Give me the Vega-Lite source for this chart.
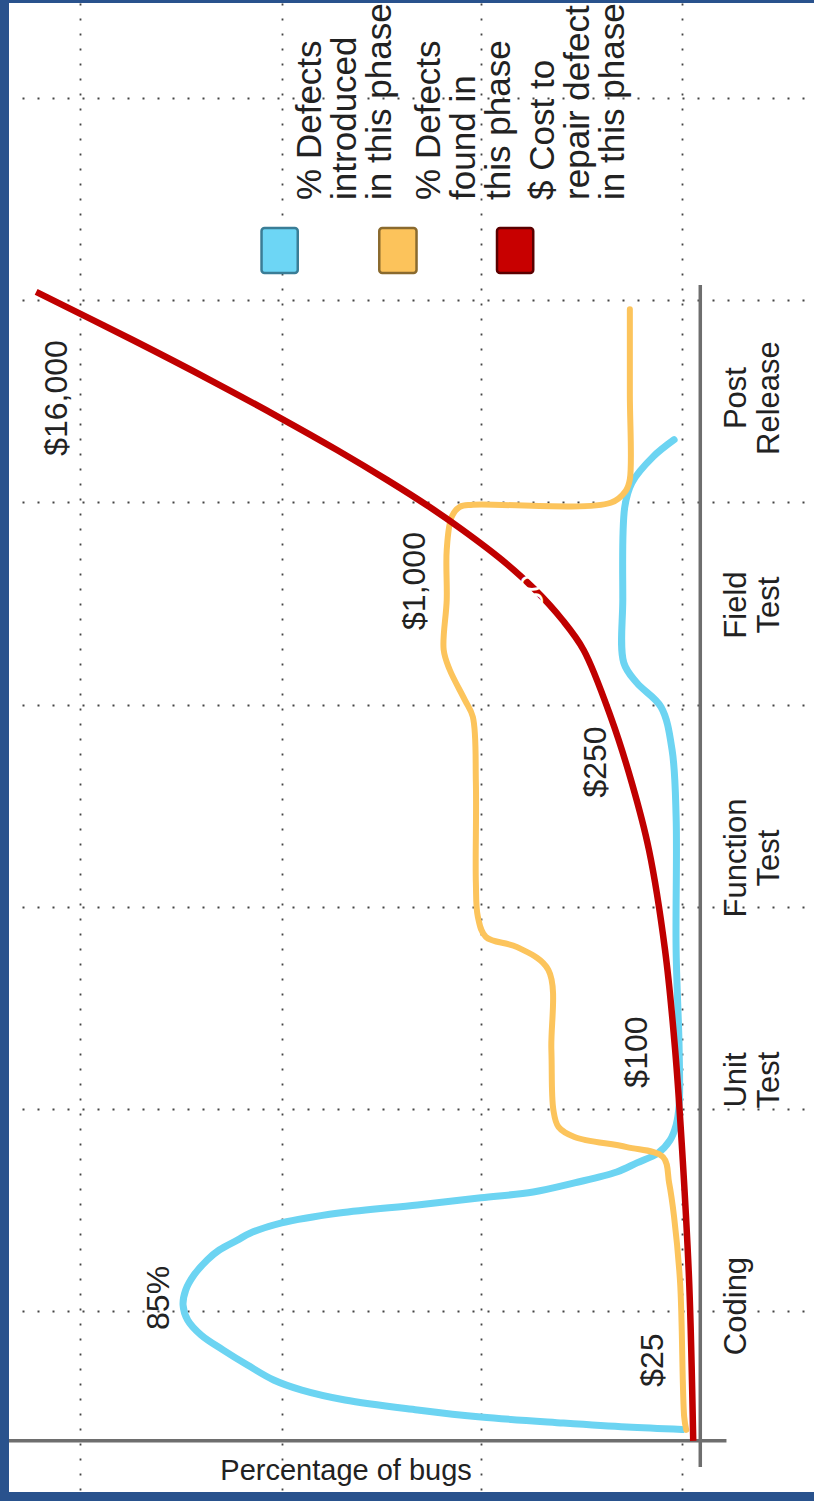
{
  "$schema": "https://vega.github.io/schema/vega-lite/v6.json",
  "width": 810,
  "height": 1489,
  "autosize": {"type": "none"},
  "padding": {"left": 9, "top": 3, "right": 0, "bottom": 9},
  "background": "#29528d",
  "config": {"view": {"fill": "#ffffff", "stroke": null}, "font": "Liberation Sans"},
  "datasets": {
    "curves": [
      {"series": "introduced", "i": 1, "p": 2.98, "u": 0.414},
      {"series": "introduced", "i": 2, "p": 12.07, "u": 0.426},
      {"series": "introduced", "i": 3, "p": 22.48, "u": 0.446},
      {"series": "introduced", "i": 4, "p": 36.03, "u": 0.476},
      {"series": "introduced", "i": 5, "p": 46.45, "u": 0.511},
      {"series": "introduced", "i": 6, "p": 58.35, "u": 0.56},
      {"series": "introduced", "i": 7, "p": 65.45, "u": 0.609},
      {"series": "introduced", "i": 8, "p": 70.08, "u": 0.659},
      {"series": "introduced", "i": 9, "p": 74.38, "u": 0.733},
      {"series": "introduced", "i": 10, "p": 78.35, "u": 0.807},
      {"series": "introduced", "i": 11, "p": 81.98, "u": 0.881},
      {"series": "introduced", "i": 12, "p": 84.21, "u": 0.956},
      {"series": "introduced", "i": 13, "p": 84.96, "u": 1.03},
      {"series": "introduced", "i": 14, "p": 84.52, "u": 1.104},
      {"series": "introduced", "i": 15, "p": 83.17, "u": 1.178},
      {"series": "introduced", "i": 16, "p": 80.99, "u": 1.253},
      {"series": "introduced", "i": 17, "p": 79.01, "u": 1.302},
      {"series": "introduced", "i": 18, "p": 76.03, "u": 1.351},
      {"series": "introduced", "i": 19, "p": 73.88, "u": 1.386},
      {"series": "introduced", "i": 20, "p": 68.76, "u": 1.436},
      {"series": "introduced", "i": 21, "p": 59.34, "u": 1.485},
      {"series": "introduced", "i": 22, "p": 46.45, "u": 1.525},
      {"series": "introduced", "i": 23, "p": 36.03, "u": 1.56},
      {"series": "introduced", "i": 24, "p": 27.44, "u": 1.589},
      {"series": "introduced", "i": 25, "p": 20.66, "u": 1.634},
      {"series": "introduced", "i": 26, "p": 13.72, "u": 1.688},
      {"series": "introduced", "i": 27, "p": 10.41, "u": 1.733},
      {"series": "introduced", "i": 28, "p": 6.94, "u": 1.782},
      {"series": "introduced", "i": 29, "p": 4.96, "u": 1.846},
      {"series": "introduced", "i": 30, "p": 3.97, "u": 1.92},
      {"series": "introduced", "i": 31, "p": 3.47, "u": 2.019},
      {"series": "introduced", "i": 32, "p": 3.47, "u": 2.292},
      {"series": "introduced", "i": 33, "p": 3.97, "u": 2.786},
      {"series": "introduced", "i": 34, "p": 3.97, "u": 3.444},
      {"series": "introduced", "i": 35, "p": 4.63, "u": 3.775},
      {"series": "introduced", "i": 36, "p": 6.45, "u": 3.988},
      {"series": "introduced", "i": 37, "p": 10.41, "u": 4.107},
      {"series": "introduced", "i": 38, "p": 12.56, "u": 4.206},
      {"series": "introduced", "i": 39, "p": 12.73, "u": 4.518},
      {"series": "introduced", "i": 40, "p": 12.4, "u": 4.978},
      {"series": "introduced", "i": 41, "p": 11.24, "u": 5.097},
      {"series": "introduced", "i": 42, "p": 7.77, "u": 5.225},
      {"series": "introduced", "i": 43, "p": 4.3, "u": 5.31},
      {"series": "found", "i": 1, "p": 2.31, "u": 0.412},
      {"series": "found", "i": 2, "p": 2.64, "u": 0.476},
      {"series": "found", "i": 3, "p": 3.31, "u": 1.138},
      {"series": "found", "i": 4, "p": 4.3, "u": 1.465},
      {"series": "found", "i": 5, "p": 5.12, "u": 1.634},
      {"series": "found", "i": 6, "p": 6.12, "u": 1.762},
      {"series": "found", "i": 7, "p": 12.07, "u": 1.811},
      {"series": "found", "i": 8, "p": 20.66, "u": 1.861},
      {"series": "found", "i": 9, "p": 23.3, "u": 1.911},
      {"series": "found", "i": 10, "p": 24.13, "u": 1.995},
      {"series": "found", "i": 11, "p": 24.46, "u": 2.292},
      {"series": "found", "i": 12, "p": 24.96, "u": 2.688},
      {"series": "found", "i": 13, "p": 30.08, "u": 2.8},
      {"series": "found", "i": 14, "p": 35.21, "u": 2.85},
      {"series": "found", "i": 15, "p": 36.53, "u": 2.949},
      {"series": "found", "i": 16, "p": 36.86, "u": 3.117},
      {"series": "found", "i": 17, "p": 36.86, "u": 3.612},
      {"series": "found", "i": 18, "p": 37.36, "u": 3.939},
      {"series": "found", "i": 19, "p": 38.68, "u": 4.023},
      {"series": "found", "i": 20, "p": 41.16, "u": 4.172},
      {"series": "found", "i": 21, "p": 42.15, "u": 4.271},
      {"series": "found", "i": 22, "p": 41.65, "u": 4.518},
      {"series": "found", "i": 23, "p": 41.65, "u": 4.765},
      {"series": "found", "i": 24, "p": 40.83, "u": 4.929},
      {"series": "found", "i": 25, "p": 39.5, "u": 4.978},
      {"series": "found", "i": 26, "p": 37.36, "u": 4.988},
      {"series": "found", "i": 27, "p": 14.71, "u": 4.998},
      {"series": "found", "i": 28, "p": 12.23, "u": 5.058},
      {"series": "found", "i": 29, "p": 11.57, "u": 5.114},
      {"series": "found", "i": 30, "p": 11.57, "u": 5.535},
      {"series": "found", "i": 31, "p": 11.57, "u": 5.955},
      {"series": "cost", "i": 1, "p": 1.16, "u": 0.358},
      {"series": "cost", "i": 2, "p": 1.82, "u": 1.138},
      {"series": "cost", "i": 3, "p": 2.98, "u": 1.796},
      {"series": "cost", "i": 4, "p": 4.13, "u": 2.292},
      {"series": "cost", "i": 5, "p": 5.79, "u": 2.786},
      {"series": "cost", "i": 6, "p": 8.43, "u": 3.281},
      {"series": "cost", "i": 7, "p": 11.24, "u": 3.612},
      {"series": "cost", "i": 8, "p": 14.71, "u": 3.939},
      {"series": "cost", "i": 9, "p": 19.17, "u": 4.27},
      {"series": "cost", "i": 10, "p": 22.64, "u": 4.418},
      {"series": "cost", "i": 11, "p": 27.11, "u": 4.567},
      {"series": "cost", "i": 12, "p": 32.56, "u": 4.715},
      {"series": "cost", "i": 13, "p": 39.01, "u": 4.863},
      {"series": "cost", "i": 14, "p": 44.46, "u": 4.977},
      {"series": "cost", "i": 15, "p": 51.4, "u": 5.11},
      {"series": "cost", "i": 16, "p": 59.67, "u": 5.259},
      {"series": "cost", "i": 17, "p": 69.26, "u": 5.422},
      {"series": "cost", "i": 18, "p": 80.5, "u": 5.605},
      {"series": "cost", "i": 19, "p": 93.22, "u": 5.803},
      {"series": "cost", "i": 20, "p": 109.09, "u": 6.041}
    ],
    "swatches": [
      {"series": "introduced", "p": 72.07, "p2": 66.12, "u": 6.357, "u2": 6.135},
      {"series": "found", "p": 52.73, "p2": 46.61, "u": 6.357, "u2": 6.135},
      {"series": "cost", "p": 33.39, "p2": 27.44, "u": 6.357, "u2": 6.135}
    ],
    "axislines": [
      {"p": 0, "p2": 0, "u": 0.229, "u2": 6.075},
      {"p": 113.55, "p2": -4.3, "u": 0.358, "u2": 0.358}
    ],
    "labels": [
      {"kind": "legend", "text": "% Defects\nintroduced\nin this phase", "p": 64.13, "u": 6.496},
      {"kind": "legend", "text": "% Defects\nfound in\nthis phase", "p": 44.63, "u": 6.496},
      {"kind": "legend", "text": "$ Cost to\nrepair defect\nin this phase", "p": 25.79, "u": 6.496},
      {"kind": "phase", "text": "Coding", "p": -3.6, "u": 1.025},
      {"kind": "phase", "text": "Unit\nTest", "p": -3.6, "u": 2.143},
      {"kind": "phase", "text": "Function\nTest", "p": -3.6, "u": 3.241},
      {"kind": "phase", "text": "Field\nTest", "p": -3.6, "u": 4.492},
      {"kind": "phase", "text": "Post\nRelease", "p": -3.6, "u": 5.516},
      {"kind": "value", "text": "$25", "p": 7.77, "u": 0.757},
      {"kind": "value", "text": "$100", "p": 10.41, "u": 2.281},
      {"kind": "value", "text": "$250", "p": 17.19, "u": 3.716},
      {"kind": "value", "text": "$1,000", "p": 46.94, "u": 4.611},
      {"kind": "value", "text": "$16,000", "p": 105.62, "u": 5.516},
      {"kind": "value", "text": "85%", "p": 88.93, "u": 1.065},
      {"kind": "title", "text": "Percentage of bugs", "p": 58.18, "u": 0.209},
      {"kind": "hidden", "text": "$500", "p": 27.44, "u": 4.557}
    ]
  },
  "encoding": {
    "x": {
      "field": "p", "type": "quantitative",
      "scale": {"domain": [-19.5, 113.55], "reverse": true, "nice": false, "zero": false},
      "axis": {"values": [2.98, 36.03, 68.76, 101.82], "grid": true, "labels": false, "ticks": false, "domain": false, "title": null, "gridColor": "#444444", "gridDash": [2, 13], "gridWidth": 1.8, "minExtent": 0, "maxExtent": 0}
    },
    "y": {
      "field": "u", "type": "quantitative",
      "scale": {"domain": [0.105, 7.47], "nice": false, "zero": false},
      "axis": {"values": [1, 2, 3, 4, 5, 6, 7], "grid": true, "labels": false, "ticks": false, "domain": false, "title": null, "gridColor": "#444444", "gridDash": [2, 13], "gridWidth": 1.8, "minExtent": 0, "maxExtent": 0}
    }
  },
  "layer": [
    {
      "data": {"name": "axislines"},
      "mark": {"type": "rule", "color": "#6e6e6e", "strokeWidth": 3.5},
      "encoding": {"x2": {"field": "p2"}, "y2": {"field": "u2"}}
    },
    {
      "data": {"name": "curves"},
      "transform": [{"filter": "datum.series === 'introduced'"}],
      "mark": {"type": "line", "color": "#6cd4f2", "strokeWidth": 7, "interpolate": "catmull-rom", "strokeCap": "round", "strokeJoin": "round"},
      "encoding": {"order": {"field": "i", "type": "quantitative"}}
    },
    {
      "data": {"name": "curves"},
      "transform": [{"filter": "datum.series === 'found'"}],
      "mark": {"type": "line", "color": "#fcc45c", "strokeWidth": 6, "interpolate": "catmull-rom", "strokeCap": "round"},
      "encoding": {"order": {"field": "i", "type": "quantitative"}}
    },
    {
      "data": {"name": "curves"},
      "transform": [{"filter": "datum.series === 'cost'"}],
      "mark": {"type": "line", "color": "#c00000", "strokeWidth": 6.5, "interpolate": "catmull-rom"},
      "encoding": {"order": {"field": "i", "type": "quantitative"}}
    },
    {
      "data": {"name": "swatches"},
      "mark": {"type": "rect", "strokeWidth": 2.5, "cornerRadius": 3},
      "encoding": {
        "x2": {"field": "p2"},
        "y2": {"field": "u2"},
        "fill": {"field": "series", "type": "nominal", "scale": {"domain": ["introduced", "found", "cost"], "range": ["#6dd6f5", "#fcc35b", "#c80000"]}, "legend": null},
        "stroke": {"field": "series", "type": "nominal", "scale": {"domain": ["introduced", "found", "cost"], "range": ["#3a7d96", "#8a6a2e", "#5a0000"]}, "legend": null}
      }
    },
    {
      "data": {"name": "labels"},
      "transform": [{"filter": "datum.kind === 'legend'"}],
      "mark": {"type": "text", "angle": -90, "align": "left", "baseline": "middle", "fontSize": 35, "lineHeight": 35, "lineBreak": "\n", "color": "#222222"},
      "encoding": {"text": {"field": "text"}}
    },
    {
      "data": {"name": "labels"},
      "transform": [{"filter": "datum.kind === 'phase'"}],
      "mark": {"type": "text", "angle": -90, "align": "center", "baseline": "top", "fontSize": 31, "lineHeight": 33, "lineBreak": "\n", "color": "#222222"},
      "encoding": {"text": {"field": "text"}}
    },
    {
      "data": {"name": "labels"},
      "transform": [{"filter": "datum.kind === 'value'"}],
      "mark": {"type": "text", "angle": -90, "align": "center", "baseline": "middle", "fontSize": 32, "color": "#222222"},
      "encoding": {"text": {"field": "text"}}
    },
    {
      "data": {"name": "labels"},
      "transform": [{"filter": "datum.kind === 'hidden'"}],
      "mark": {"type": "text", "angle": -90, "align": "center", "baseline": "middle", "fontSize": 32, "color": "#ffffff"},
      "encoding": {"text": {"field": "text"}}
    },
    {
      "data": {"name": "labels"},
      "transform": [{"filter": "datum.kind === 'title'"}],
      "mark": {"type": "text", "align": "center", "baseline": "middle", "fontSize": 29, "color": "#222222"},
      "encoding": {"text": {"field": "text"}}
    }
  ]
}
